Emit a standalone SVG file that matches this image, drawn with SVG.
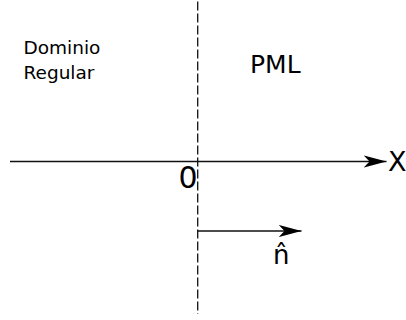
<svg xmlns="http://www.w3.org/2000/svg" width="406" height="320" viewBox="0 0 406 320">
<style>
text{font-family:"DejaVu Sans",sans-serif;fill:#000}
.ax{stroke:#111;stroke-width:1.3;fill:none}
</style>
<defs>
<marker id="ah" markerWidth="26" markerHeight="14" refX="23" refY="7" orient="auto" markerUnits="userSpaceOnUse">
<path d="M0,0.8 L23,7 L0,13.2 L6,7 Z" fill="#000"/>
</marker>
</defs>
<rect width="406" height="320" fill="#fff"/>
<g id="connectors">
<line class="ax" x1="197.7" y1="1.5" x2="197.7" y2="314" stroke-dasharray="9,3"/>
<line class="ax" x1="10" y1="161.5" x2="386.5" y2="161.5" marker-end="url(#ah)"/>
<line class="ax" x1="197.7" y1="231" x2="301.5" y2="231" marker-end="url(#ah)"/>
</g>
<g id="dominio"><text x="23.5" y="53.5" font-size="18.5">Dominio</text><text x="23.5" y="78.5" font-size="18.5">Regular</text></g>
<g id="pml"><text x="250" y="73.3" font-size="25">PML</text></g>
<g id="x"><text x="388" y="170.7" font-size="27">X</text></g>
<g id="zero"><text x="178.5" y="188" font-size="30">0</text></g>
<g id="n"><text x="273" y="264" font-size="26">n̂</text></g>
</svg>
